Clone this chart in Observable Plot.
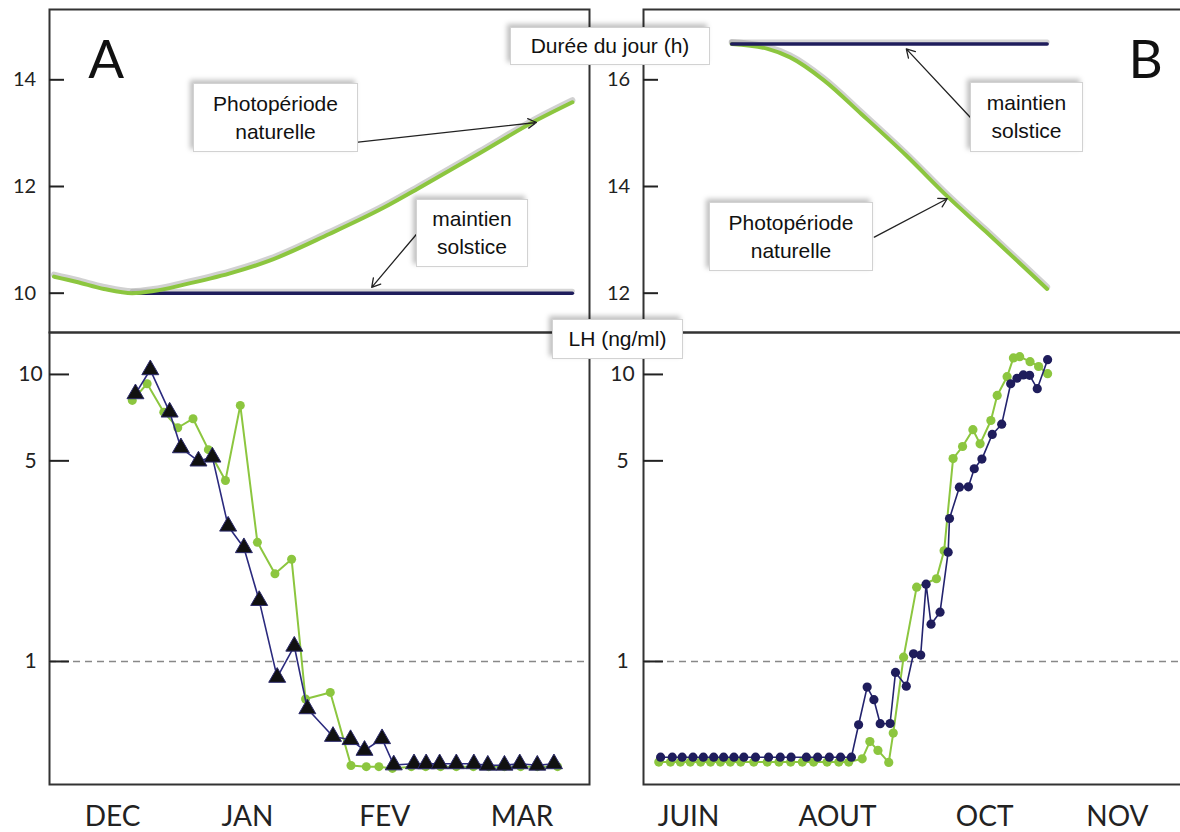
<!DOCTYPE html>
<html><head><meta charset="utf-8">
<script src="https://cdn.jsdelivr.net/npm/d3@7"></script>
<script src="https://cdn.jsdelivr.net/npm/@observablehq/plot@0.6"></script>
<style>
body{margin:0;background:#fff;}
#fig{position:relative;width:1180px;height:832px;overflow:hidden;background:#fff;font-family:"Liberation Sans",Arial,sans-serif;}
.panel{position:absolute;}
.box{position:absolute;background:#fff;border:1px solid #d2d2d2;box-shadow:-3px -3px 5px rgba(0,0,0,0.25);font-size:21px;color:#111;text-align:center;display:flex;align-items:center;justify-content:center;line-height:28px;box-sizing:border-box;white-space:pre-line;}
</style></head><body><div id="fig"></div>
<script>
// ---------- DATA ----------
// Panel A, day length (h) vs day index
const photoA_day = [1.0, 6.1, 12.1, 18.4, 23.1, 29.9, 40.1, 48.6, 62.2, 74.2, 82.7, 95.3, 108.2, 116.2];
const photoA_h   = [10.31, 10.21, 10.08, 10.0, 10.04, 10.16, 10.37, 10.6, 11.11, 11.6, 12.0, 12.61, 13.24, 13.58];
const solsA_day  = [18.4, 116.2];
const solsA_h    = [10.0, 10.0];
// Panel B, day length
const photoB_day = [19.6, 27.6, 32.6, 40.1, 48.4, 58.4, 67.7, 76.0, 84.4, 89.7];
const photoB_h   = [16.67, 16.58, 16.42, 15.99, 15.36, 14.58, 13.80, 13.16, 12.50, 12.08];
const solsB_day  = [19.6, 89.7];
const solsB_h    = [16.67, 16.67];
// Panel A, LH (ng/ml)
const lhA_sol_day = [19.1, 22.4, 26.7, 29.2, 33.1, 36.2, 39.7, 43.2, 46.6, 50.6, 54.4, 57.3, 63.0, 66.9, 70.0, 73.9, 76.5, 81.0, 83.7, 86.7, 90.4, 94.3, 97.4, 101.1, 104.5, 108.4, 112.1];
const lhA_sol     = [8.56, 10.38, 7.39, 5.55, 4.99, 5.15, 2.96, 2.49, 1.63, 0.88, 1.13, 0.684, 0.548, 0.534, 0.490, 0.538, 0.436, 0.44, 0.44, 0.44, 0.44, 0.44, 0.435, 0.435, 0.44, 0.435, 0.44];
const lhA_nat_day = [18.4, 21.7, 25.4, 28.5, 31.9, 35.3, 39.1, 42.4, 46.2, 50.1, 53.8, 56.9, 62.4, 67.0, 70.4, 73.2, 76.2, 80.4, 83.6, 86.9, 90.4, 94.2, 97.6, 101.1, 104.7, 108.4, 112.9];
const lhA_nat     = [8.12, 9.28, 7.39, 6.52, 7.01, 5.47, 4.27, 7.80, 2.60, 2.02, 2.27, 0.74, 0.78, 0.434, 0.43, 0.43, 0.424, 0.43, 0.43, 0.43, 0.43, 0.43, 0.43, 0.43, 0.43, 0.43, 0.43];
// Panel B, LH (ng/ml)
const lhB_sol_day = [3.8, 6.4, 8.6, 11.0, 13.3, 15.6, 17.8, 20.1, 22.3, 24.9, 27.8, 30.4, 32.8, 36.2, 38.7, 41.3, 43.8, 46.2, 47.8, 49.7, 51.2, 52.6, 54.8, 56.0, 58.4, 60.0, 61.6, 62.8, 63.9, 65.9, 67.7, 68.0, 70.2, 72.2, 73.5, 75.2, 77.5, 79.6, 81.6, 83.0, 84.4, 85.8, 87.5, 89.8];
const lhB_sol     = [0.464, 0.464, 0.464, 0.464, 0.464, 0.464, 0.464, 0.464, 0.464, 0.464, 0.464, 0.464, 0.464, 0.464, 0.464, 0.464, 0.464, 0.464, 0.602, 0.814, 0.736, 0.607, 0.608, 0.916, 0.820, 1.064, 1.053, 1.859, 1.349, 1.485, 2.404, 3.149, 4.049, 4.059, 4.692, 5.07, 6.18, 6.71, 9.28, 9.70, 9.96, 9.93, 8.92, 11.26];
const lhB_nat_day = [3.4, 6.0, 8.2, 10.4, 12.7, 14.9, 17.1, 19.3, 21.6, 24.5, 27.5, 30.1, 32.7, 35.3, 37.8, 40.8, 43.4, 45.6, 48.6, 50.3, 52.1, 54.5, 55.5, 57.8, 60.7, 65.1, 66.8, 68.8, 70.9, 73.2, 74.8, 77.2, 78.6, 80.8, 82.2, 83.6, 85.9, 87.8, 89.8];
const lhB_nat     = [0.446, 0.446, 0.446, 0.446, 0.446, 0.446, 0.446, 0.446, 0.446, 0.446, 0.446, 0.446, 0.446, 0.446, 0.446, 0.446, 0.446, 0.446, 0.458, 0.526, 0.490, 0.445, 0.563, 1.035, 1.815, 1.942, 2.43, 5.09, 5.61, 6.42, 5.73, 6.91, 8.45, 9.82, 11.42, 11.53, 11.08, 10.66, 10.06];
// Axis ticks and labels
const hourTicksA = [10, 12, 14];
const hourTicksB = [12, 14, 16];
const lhTicks = [1, 5, 10];
const monthsA = ["DEC", "JAN", "FEV", "MAR"];
const monthPosA = [14, 44, 74.5, 105];
const monthsB = ["JUIN", "AOUT", "OCT", "NOV"];
const monthPosB = [10, 43.1, 75.8, 105.3];
// Annotation arrows (data coords: day, hours)
const arrowsA = [{x1: 68.6, y1: 12.83, x2: 108.2, y2: 13.2}, {x1: 81.6, y1: 11.11, x2: 71.6, y2: 10.11}];
const arrowsB = [{x1: 72.7, y1: 15.29, x2: 58.4, y2: 16.58}, {x1: 51.3, y1: 13.05, x2: 67.5, y2: 13.77}];

// ---------- BUILD ----------
const zip = (xs, ys, k) => xs.map((x, i) => ({day: x, [k]: ys[i]}));
const photoA = zip(photoA_day, photoA_h, "h");
const solsA = zip(solsA_day, solsA_h, "h");
const photoB = zip(photoB_day, photoB_h, "h");
const solsB = zip(solsB_day, solsB_h, "h");
const lhAsol = zip(lhA_sol_day, lhA_sol, "v");
const lhAnat = zip(lhA_nat_day, lhA_nat, "v");
const lhBsol = zip(lhB_sol_day, lhB_sol, "v");
const lhBnat = zip(lhB_nat_day, lhB_nat, "v");

const GREEN = "#8cc63f", NAVY = "#1f1d5c", FRAME = "#333";
const svgStyle = {background: "transparent", overflow: "visible", fontFamily: "Lato, sans-serif", color: "#222"};

function topPanel({left, marginLeft, marginRight, yDomain, ticks, photo, sols, arrows, letter, letterDx, greenFirst}) {
  const green = [
    Plot.line(photo, {x: "day", y: "h", stroke: "#999", strokeWidth: 6, strokeOpacity: 0.45, dy: -2, curve: "monotone-x"}),
    Plot.line(photo, {x: "day", y: "h", stroke: GREEN, strokeWidth: 4, curve: "monotone-x"})
  ];
  const navy = [
    Plot.line(sols, {x: "day", y: "h", stroke: "#999", strokeWidth: 5, strokeOpacity: 0.4, dy: -2}),
    Plot.line(sols, {x: "day", y: "h", stroke: NAVY, strokeWidth: 3.5})
  ];
  const p = Plot.plot({
    width: 600, height: 340, marginLeft, marginRight, marginTop: 9, marginBottom: 8,
    x: {domain: [0, 120], axis: null, label: null},
    y: {domain: yDomain, label: null},
    style: svgStyle,
    marks: [
      Plot.frame({stroke: FRAME, strokeWidth: 2}),
      Plot.axisY({ticks, label: null, tickSize: -15, tickFormat: () => "", stroke: "#222", strokeWidth: 2}),
      Plot.axisY({ticks, label: null, tickSize: 0, tickPadding: 25, textAnchor: "middle", fontSize: 20, fill: "#222", tickFormat: d => String(d)}),
      ...(greenFirst ? [...green, ...navy] : [...navy, ...green]),
      Plot.arrow(arrows, {x1: "x1", y1: "y1", x2: "x2", y2: "y2", stroke: "#222", strokeWidth: 1.3, headLength: 11}),
      Plot.text([letter], {frameAnchor: "top-left", dx: letterDx, dy: 31, textAnchor: "middle", lineAnchor: "top", fontSize: 53, fill: "#111"})
    ]
  });
  p.classList.add("panel");
  p.style.left = left + "px"; p.style.top = "0px";
  return p;
}

function bottomPanel({left, marginLeft, marginRight, months, monthPos, tickPad, series}) {
  const p = Plot.plot({
    width: 600, height: 532, marginLeft, marginRight, marginTop: 32, marginBottom: 48,
    x: {domain: [0, 120], label: null},
    y: {type: "log", domain: [0.3727, 14.0], label: null},
    style: svgStyle,
    marks: [
      Plot.frame({stroke: FRAME, strokeWidth: 2}),
      Plot.ruleY([1], {stroke: "#888", strokeWidth: 1.5, strokeDasharray: "7,5"}),
      Plot.axisY({ticks: lhTicks, label: null, tickSize: -20, tickFormat: () => "", stroke: "#222", strokeWidth: 2}),
      Plot.axisY({ticks: lhTicks, label: null, tickSize: 0, tickPadding: tickPad, textAnchor: "middle", fontSize: 21, fill: "#222", tickFormat: d => String(d)}),
      Plot.axisX({ticks: monthPos, label: null, tickSize: 0, tickPadding: 22, fontSize: 28, fill: "#222",
        tickFormat: d => months[monthPos.indexOf(d)]}),
      ...series
    ]
  });
  p.classList.add("panel");
  p.style.left = left + "px"; p.style.top = "300px";
  return p;
}

const fig = document.getElementById("fig");

fig.appendChild(topPanel({left: 0, marginLeft: 49, marginRight: 11, yDomain: [9.263, 15.318], ticks: hourTicksA,
  photo: photoA, sols: solsA, arrows: arrowsA, letter: "A", letterDx: 56.6, greenFirst: false}));
fig.appendChild(topPanel({left: 600, marginLeft: 43, marginRight: 17, yDomain: [11.263, 17.318], ticks: hourTicksB,
  photo: photoB, sols: solsB, arrows: arrowsB, letter: "B", letterDx: 502, greenFirst: true}));

fig.appendChild(bottomPanel({left: 0, marginLeft: 49, marginRight: 11, months: monthsA, monthPos: monthPosA, tickPad: 19, series: [
  Plot.line(lhAnat, {x: "day", y: "v", stroke: GREEN, strokeWidth: 2}),
  Plot.dot(lhAnat, {x: "day", y: "v", r: 4.5, fill: GREEN}),
  Plot.line(lhAsol, {x: "day", y: "v", stroke: "#2b2a7e", strokeWidth: 1.6}),
  Plot.dot(lhAsol, {x: "day", y: "v", symbol: "triangle", r: 6.3, fill: "#111", stroke: "#2b2a6a", strokeWidth: 1})
]}));
fig.appendChild(bottomPanel({left: 600, marginLeft: 43, marginRight: 17, months: monthsB, monthPos: monthPosB, tickPad: 21, series: [
  Plot.line(lhBnat, {x: "day", y: "v", stroke: GREEN, strokeWidth: 2}),
  Plot.dot(lhBnat, {x: "day", y: "v", r: 4.6, fill: GREEN}),
  Plot.line(lhBsol, {x: "day", y: "v", stroke: "#23236e", strokeWidth: 1.6}),
  Plot.dot(lhBsol, {x: "day", y: "v", r: 4.6, fill: NAVY})
]}));

// Annotation boxes (layout)
const boxes = [
  {t: "Photopériode\nnaturelle", l: 193, tp: 83, w: 165, h: 69},
  {t: "maintien\nsolstice", l: 416, tp: 199, w: 112, h: 68},
  {t: "maintien\nsolstice", l: 970, tp: 82, w: 113, h: 70},
  {t: "Photopériode\nnaturelle", l: 709, tp: 202, w: 164, h: 69},
  {t: "Durée du jour (h)", l: 510, tp: 27, w: 200, h: 38},
  {t: "LH (ng/ml)", l: 552, tp: 319, w: 131, h: 40}
];
for (const b of boxes) {
  const d = document.createElement("div");
  d.className = "box";
  d.textContent = b.t;
  Object.assign(d.style, {left: b.l + "px", top: b.tp + "px", width: b.w + "px", height: b.h + "px"});
  fig.appendChild(d);
}
</script></body></html>
